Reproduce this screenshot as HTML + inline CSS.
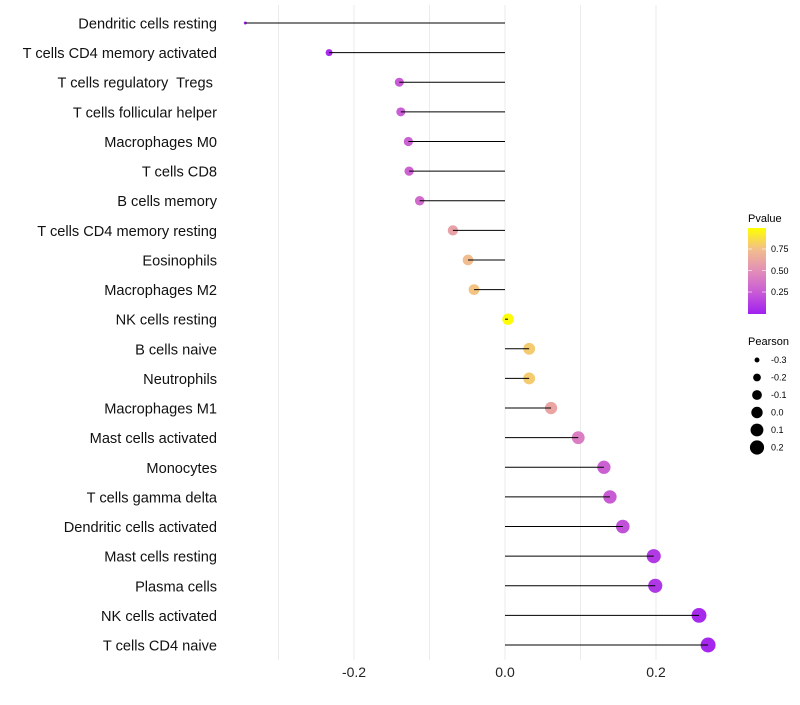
<!DOCTYPE html>
<html><head><meta charset="utf-8"><style>
body{margin:0;background:#fff;font-family:"Liberation Sans",sans-serif}
text{white-space:pre}
</style></head><body>
<svg id="chart" width="800" height="700" xmlns="http://www.w3.org/2000/svg" font-family="Liberation Sans, sans-serif">
<defs><linearGradient id="pg" x1="0" y1="1" x2="0" y2="0">
<stop offset="0" stop-color="#A020F0"/><stop offset="0.25" stop-color="#C85AD6"/><stop offset="0.5" stop-color="#E28EB8"/><stop offset="0.75" stop-color="#F2BE8C"/><stop offset="1" stop-color="#FFFF00"/></linearGradient></defs>
<g id="grid"></g><g id="marks"></g><g id="labels"></g>
<g>
<text x="748" y="222" font-size="11" fill="#000">Pvalue</text>
<rect x="748" y="228" width="18" height="86" fill="url(#pg)"/>
<line x1="748" y1="249" x2="752" y2="249" stroke="#fff" opacity="0.6"/><line x1="762" y1="249" x2="766" y2="249" stroke="#fff" opacity="0.6"/>
<line x1="748" y1="270.5" x2="752" y2="270.5" stroke="#fff" opacity="0.6"/><line x1="762" y1="270.5" x2="766" y2="270.5" stroke="#fff" opacity="0.6"/>
<line x1="748" y1="292" x2="752" y2="292" stroke="#fff" opacity="0.6"/><line x1="762" y1="292" x2="766" y2="292" stroke="#fff" opacity="0.6"/>
<text x="771" y="252" font-size="9">0.75</text><text x="771" y="274" font-size="9">0.50</text><text x="771" y="295" font-size="9">0.25</text>
</g>
<g id="sizeleg">
<text x="748" y="345" font-size="11" fill="#000">Pearson</text>
</g>
</svg>
<script>
const cats=["Dendritic cells resting","T cells CD4 memory activated","T cells regulatory  Tregs ","T cells follicular helper","Macrophages M0","T cells CD8","B cells memory","T cells CD4 memory resting","Eosinophils","Macrophages M2","NK cells resting","B cells naive","Neutrophils","Macrophages M1","Mast cells activated","Monocytes","T cells gamma delta","Dendritic cells activated","Mast cells resting","Plasma cells","NK cells activated","T cells CD4 naive"];
const pearson=[-0.344,-0.233,-0.140,-0.138,-0.128,-0.127,-0.113,-0.069,-0.049,-0.041,0.004,0.032,0.032,0.061,0.097,0.131,0.139,0.156,0.197,0.199,0.257,0.269];
const pvals=[0.01,0.05,0.25,0.27,0.28,0.29,0.33,0.6,0.74,0.77,0.99,0.8,0.8,0.62,0.42,0.28,0.26,0.21,0.11,0.1,0.04,0.03];
const xticks=[-0.2,0.0,0.2];
const xgrid=[-0.3,-0.2,-0.1,0.0,0.1,0.2];
const sizeLeg=[-0.3,-0.2,-0.1,0.0,0.1,0.2];
const NS="http://www.w3.org/2000/svg";
const X=v=>505+v*755;
const Y=i=>23+i*(622/21);
const R=v=>Math.sqrt(Math.max(1.5,2.25+88*(v+0.344)));
const stops=[[0,[160,32,240]],[0.25,[200,90,214]],[0.5,[226,142,184]],[0.75,[242,190,140]],[1,[255,255,0]]];
function col(p){for(let i=1;i<stops.length;i++){if(p<=stops[i][0]){const a=stops[i-1],b=stops[i],t=(p-a[0])/(b[0]-a[0]);return 'rgb('+a[1].map((c,k)=>Math.round(c+(b[1][k]-c)*t)).join(',')+')';}}return 'rgb(255,255,0)';}
function mk(t,at,par){const e=document.createElementNS(NS,t);for(const k in at)e.setAttribute(k,at[k]);par.appendChild(e);return e;}
const grid=document.getElementById('grid'),marks=document.getElementById('marks'),labels=document.getElementById('labels');
xgrid.forEach(v=>{const l=mk('line',{x1:X(v),x2:X(v),y1:5,y2:660,stroke:'#ebebeb','stroke-width':1},grid);

});
xticks.forEach(v=>{const t=mk('text',{x:X(v),y:677,'font-size':14,'text-anchor':'middle',fill:'#222'},labels);t.textContent=v.toFixed(1);

});
cats.forEach((c,i)=>{const v=pearson[i];
const pt=mk('circle',{cx:X(v),cy:Y(i),r:R(v),fill:col(pvals[i])},marks);


const s=mk('line',{x1:X(0),x2:X(v),y1:Y(i),y2:Y(i),stroke:'#000','stroke-width':1},marks);


const t=mk('text',{x:217,y:Y(i)+5.5,'font-size':14.6,'text-anchor':'end',fill:'#111'},labels);t.textContent=c;

});
const sl=document.getElementById('sizeleg');
sizeLeg.forEach((v,i)=>{const y=360+i*17.5;
const c=mk('circle',{cx:757,cy:y,r:R(v),fill:'#000'},sl);


const t=mk('text',{x:771,y:y+3,'font-size':9},sl);t.textContent=v.toFixed(1);

});
</script>
</body></html>
